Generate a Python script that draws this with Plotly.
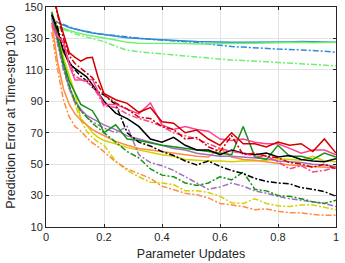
import plotly.graph_objects as go

x = [0.02, 0.04, 0.06, 0.08, 0.10, 0.12, 0.14, 0.16, 0.18, 0.20,
     0.24, 0.28, 0.32, 0.36, 0.40, 0.44, 0.48, 0.52, 0.56, 0.60,
     0.64, 0.68, 0.72, 0.76, 0.80, 0.84, 0.88, 0.92, 0.96, 1.00]

blue_solid = [142, 140, 138.5, 137, 136, 135, 134.2, 133.5, 133, 132.5,
              131.5, 130.5, 130, 129.5, 129, 128.5, 128.3, 128, 128, 127.8,
              127.6, 127.5, 127.5, 127.8, 127.5, 127.8, 128, 127.8, 127.6, 127.5]
blue_dashdot = [142, 140.5, 138.5, 137.2, 136, 135.2, 134.3, 133.6, 133, 132.6,
                131.6, 130.7, 130, 129.4, 129, 128.6, 128.2, 127.5, 126.5, 125.5,
                124.8, 124.5, 124, 123.8, 123.2, 123, 122.8, 122.3, 121.8, 121.2]
lgreen_solid = [139, 137.5, 136, 135, 134, 133, 132.2, 131.5, 131, 130.3,
                129, 127.5, 127, 127, 126.8, 127, 126.8, 126.5, 126.7, 126.5,
                126.8, 127, 127, 127.2, 127, 127.2, 127.5, 127.3, 127.5, 127.5]
lgreen_dashdot = [138.5, 137, 135.5, 134, 133, 131.8, 130.8, 130, 129, 128,
                  125, 122.5, 121.5, 120.8, 120, 119.3, 118.7, 118, 117.3, 116.5,
                  116.2, 116, 115.6, 115.3, 115, 114.5, 114, 113.5, 113, 112.5]
red_solid = [162, 146, 133, 121, 118, 115.5, 117.5, 118, 105, 95,
             91, 88.7, 83, 86, 77, 76, 70, 71.7, 66, 62,
             70, 63, 63, 61, 64, 62, 63, 58, 66, 57]
red_dashdot = [160, 144, 130, 119, 114, 111, 108, 105, 100, 94,
               89, 85, 80, 79, 74, 72, 66, 67, 61, 58,
               68, 56, 57, 55, 54, 51, 50, 48, 50, 47]
black_solid = [145, 135, 122, 114, 111, 108, 105.6, 100.5, 95, 90,
               82.5, 79, 74, 66, 64, 67, 62, 59, 59, 56,
               59, 57, 56, 57, 54.5, 55.5, 53, 52, 51.5, 53.5]
black_dashdot = [145, 137, 124, 115, 110, 106, 103, 99, 96, 94,
                 88, 70, 64, 61.5, 58, 55.5, 52, 49.5, 52, 48.5,
                 46, 44, 41, 39, 38, 37.5, 35, 34, 32.5, 29.5]
pink_solid = [138, 131, 128, 113, 103.5, 103.5, 103, 104, 96, 88,
              88, 85, 82, 89, 75, 72, 74, 72, 71, 66,
              65, 66, 64, 63, 63, 60, 57, 59, 59, 56]
pink_dashdot = [140, 132, 126, 115, 106, 104, 102, 100, 94, 87,
                86, 82, 79, 77, 74, 70, 68, 66, 63, 60,
                58, 57, 55, 55, 51.5, 47, 49, 45, 46, 48]
dgreen_solid = [147, 132, 115, 103, 95, 88, 86, 84, 78, 70,
                75, 66, 65, 63.5, 62, 61, 60, 59, 58, 57,
                56, 74, 54.7, 53, 62, 55, 55, 53, 57, 54.5]
dgreen_dashdot = [146, 130, 113, 100, 90, 84, 80, 76, 73, 70,
                  64, 58, 54, 47, 43, 42, 38, 36.5, 38, 42,
                  40, 45, 34, 33, 30, 29.5, 28, 26, 25, 27]
purple_solid = [144, 128, 112, 99, 90, 85, 81, 79, 77, 75,
                72, 68, 66, 64, 62, 60, 59, 57, 56, 55,
                55, 54.5, 54, 53.5, 52, 51.5, 51, 50, 49.5, 48.5]
purple_dashdot = [143, 126, 110, 98, 89, 84, 80, 77, 75, 73,
                  70, 74, 56, 51, 49, 46, 42, 38, 34, 35.5,
                  38, 36, 33, 31.5, 29.5, 28, 27, 26, 25, 23]
orange_solid = [140, 115, 98, 88, 82, 78, 75, 72, 70, 68,
                64.5, 62, 60, 59, 58, 57, 56, 55, 54.5, 60,
                54.5, 53, 52.5, 51.5, 50.5, 49.5, 49, 48.5, 48, 47.5]
orange_dashdot = [134, 110, 91, 80, 74, 71, 67, 63.5, 61, 58,
                  51.5, 47, 44, 41, 36, 34, 31.5, 30.5, 28.5, 25,
                  24, 23, 21, 21.5, 20, 19, 19, 18, 17.5, 17.5]
yellow_solid = [146, 137, 118, 107, 95, 79, 75, 70, 67, 65,
                63, 60.5, 59, 57.5, 56, 55, 53, 52.5, 52, 52,
                51.5, 52, 52, 52.5, 53.5, 53, 52.5, 55, 52, 51.5]
yellow_dashdot = [145, 132, 114, 100, 88, 78, 71, 67, 64, 62,
                  52, 46, 42, 38.5, 38, 37, 33, 33, 32, 29.5,
                  25.5, 25, 28, 25, 23.5, 23, 24, 24, 22.5, 21]

x_ticks = [0, 0.2, 0.4, 0.6, 0.8, 1]
x_tick_labels = ["0", "0.2", "0.4", "0.6", "0.8", "1"]
y_ticks = [10, 30, 50, 70, 90, 110, 130, 150]

series = [
    (blue_solid, "#2E8BD6", "solid"),
    (blue_dashdot, "#2E8BD6", "dashdot"),
    (lgreen_solid, "#70F070", "solid"),
    (lgreen_dashdot, "#70F070", "dashdot"),
    (yellow_solid, "#D2D200", "solid"),
    (yellow_dashdot, "#D2D200", "dashdot"),
    (orange_solid, "#FF8C40", "solid"),
    (orange_dashdot, "#FF8C40", "dashdot"),
    (purple_solid, "#A070B8", "solid"),
    (purple_dashdot, "#A070B8", "dashdot"),
    (dgreen_solid, "#169016", "solid"),
    (dgreen_dashdot, "#169016", "dashdot"),
    (black_solid, "#000000", "solid"),
    (black_dashdot, "#000000", "dashdot"),
    (pink_solid, "#FF4090", "solid"),
    (pink_dashdot, "#FF4090", "dashdot"),
    (red_solid, "#D00000", "solid"),
    (red_dashdot, "#D00000", "dashdot"),
]

fig = go.Figure()
for ys, col, style in series:
    dash = "solid" if style == "solid" else "6px,2px,2px,2px"
    fig.add_trace(go.Scatter(x=x, y=ys, mode="lines",
                             line=dict(color=col, width=1.5, dash=dash),
                             showlegend=False, hoverinfo="skip"))

axis_common = dict(
    showline=True, linecolor="#262626", linewidth=1, mirror="ticks",
    ticks="inside", ticklen=3, tickcolor="#262626",
    showgrid=True, gridcolor="#E3E3E3", gridwidth=1, zeroline=False,
    automargin=False,
    tickfont=dict(family="Liberation Sans, Arial", size=11, color="#262626"),
)

fig.update_layout(
    width=345, height=263,
    margin=dict(l=46, r=9, t=7, b=36),
    paper_bgcolor="white", plot_bgcolor="white",
    font=dict(family="Liberation Sans, Arial", size=11, color="#262626"),
    xaxis=dict(range=[0, 1], tickvals=x_ticks, ticktext=x_tick_labels,
               title=dict(text="Parameter Updates", standoff=7,
                          font=dict(size=12.5, color="#262626")),
               **axis_common),
    yaxis=dict(range=[10, 150], tickvals=y_ticks,
               title=dict(text="Prediction Error at Time-step 100", standoff=6,
                          font=dict(size=12.5, color="#262626")),
               **axis_common),
)

fig.write_html("out.html", config={"displayModeBar": False},
               post_script="document.body.style.margin='0';")
